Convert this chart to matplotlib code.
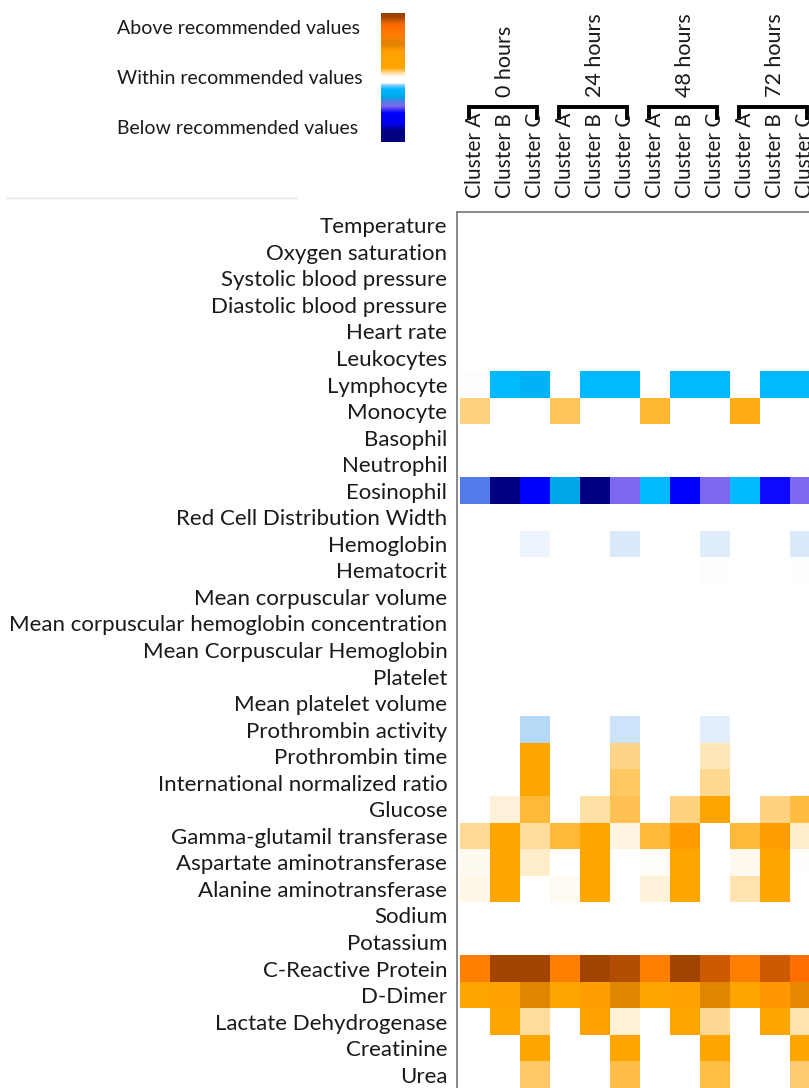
import numpy as np
import matplotlib
matplotlib.use("Agg")
import matplotlib.pyplot as plt
from matplotlib.colors import LinearSegmentedColormap, Normalize
from matplotlib import transforms
from matplotlib.lines import Line2D

plt.rcParams['font.family'] = ['Lato', 'DejaVu Sans']

# Clinical parameters shown as heatmap rows (top to bottom)
parameters = [
    "Temperature", "Oxygen saturation", "Systolic blood pressure",
    "Diastolic blood pressure", "Heart rate", "Leukocytes", "Lymphocyte",
    "Monocyte", "Basophil", "Neutrophil", "Eosinophil",
    "Red Cell Distribution Width", "Hemoglobin", "Hematocrit",
    "Mean corpuscular volume", "Mean corpuscular hemoglobin concentration",
    "Mean Corpuscular Hemoglobin", "Platelet", "Mean platelet volume",
    "Prothrombin activity", "Prothrombin time", "International normalized ratio",
    "Glucose", "Gamma-glutamil transferase", "Aspartate aminotransferase",
    "Alanine aminotransferase", "Sodium", "Potassium", "C-Reactive Protein",
    "D-Dimer", "Lactate Dehydrogenase", "Creatinine", "Urea",
]

timepoints = ["0 hours", "24 hours", "48 hours", "72 hours"]
clusters = ["Cluster A", "Cluster B", "Cluster C"]

# Deviation from the recommended range: 0 = within, > 0 above, < 0 below.
# Columns: A, B, C at 0 h, then A, B, C at 24 h, 48 h and 72 h.
levels = [
    [0, 0, 0, 0, 0, 0, 0, 0, 0, 0, 0, 0],                                  # Temperature
    [0, 0, 0, 0, 0, 0, 0, 0, 0, 0, 0, 0],                                  # Oxygen saturation
    [0, 0, 0, 0, 0, 0, 0, 0, 0, 0, 0, 0],                                  # Systolic
    [0, 0, 0, 0, 0, 0, 0, 0, 0, 0, 0, 0],                                  # Diastolic
    [0, 0, 0, 0, 0, 0, 0, 0, 0, 0, 0, 0],                                  # Heart rate
    [0, 0, 0, 0, 0, 0, 0, 0, 0, 0, 0, 0],                                  # Leukocytes
    [-0.03, -1.0, -1.05, 0, -1.0, -1.0, 0, -1.0, -1.0, 0, -1.0, -1.0],     # Lymphocyte
    [0.5, 0, 0, 0.65, 0, 0, 0.8, 0, 0, 0.92, 0, 0],                        # Monocyte
    [0, 0, 0, 0, 0, 0, 0, 0, 0, 0, 0, 0],                                  # Basophil
    [0, 0, 0, 0, 0, 0, 0, 0, 0, 0, 0, 0],                                  # Neutrophil
    [-1.32, -2.0, -1.7, -1.12, -2.0, -1.4, -1.0, -1.7, -1.4, -1.0, -1.67, -1.4],  # Eosinophil
    [0, 0, 0, 0, 0, 0, 0, 0, 0, 0, 0, 0],                                  # RDW
    [0, 0, -0.1, 0, 0, -0.2, 0, 0, -0.18, 0, 0, -0.2],                     # Hemoglobin
    [0, 0, 0, 0, 0, 0, 0, 0, -0.03, 0, 0, -0.03],                          # Hematocrit
    [0, 0, 0, 0, 0, 0, 0, 0, 0, 0, 0, 0],                                  # MCV
    [0, 0, 0, 0, 0, 0, 0, 0, 0, 0, 0, 0],                                  # MCHC
    [0, 0, 0, 0, 0, 0, 0, 0, 0, 0, 0, 0],                                  # MCH
    [0, 0, 0, 0, 0, 0, 0, 0, 0, 0, 0, 0],                                  # Platelet
    [0, 0, 0, 0, 0, 0, 0, 0, 0, 0, 0, 0],                                  # MPV
    [0, 0, -0.3, 0, 0, -0.24, 0, 0, -0.16, 0, 0, 0],                       # Prothrombin activity
    [0, 0, 1.0, 0, 0, 0.48, 0, 0, 0.27, 0, 0, 0],                          # Prothrombin time
    [0, 0, 1.0, 0, 0, 0.62, 0, 0, 0.44, 0, 0, 0],                          # INR
    [0, 0.16, 0.78, 0, 0.35, 0.68, 0, 0.5, 1.0, 0, 0.5, 0.75],             # Glucose
    [0.42, 1.0, 0.4, 0.78, 1.0, 0.13, 0.78, 1.06, 0, 0.78, 1.05, 0.22],    # GGT
    [0.07, 1.0, 0.22, 0, 1.0, 0, 0.03, 1.0, 0, 0.08, 1.0, 0.02],           # AST
    [0.1, 1.0, 0, 0.06, 1.0, 0, 0.15, 1.0, 0, 0.32, 1.0, 0],               # ALT
    [0, 0, 0, 0, 0, 0, 0, 0, 0, 0, 0, 0],                                  # Sodium
    [0, 0, 0, 0, 0, 0, 0, 0, 0, 0, 0, 0],                                  # Potassium
    [1.5, 1.97, 1.97, 1.5, 1.97, 1.9, 1.5, 1.97, 1.8, 1.5, 1.8, 1.58],     # CRP
    [1.0, 1.03, 1.25, 1.0, 1.05, 1.25, 1.0, 1.03, 1.25, 1.0, 1.1, 1.22],   # D-Dimer
    [0, 1.0, 0.4, 0, 1.02, 0.17, 0, 1.0, 0.43, 0, 1.0, 0.33],              # LDH
    [0, 0, 1.0, 0, 0, 1.0, 0, 0, 1.0, 0, 0, 1.0],                          # Creatinine
    [0, 0, 0.6, 0, 0, 0.72, 0, 0, 0.73, 0, 0, 0.57],                       # Urea
]

legend_labels = ["Above recommended values", "Within recommended values",
                 "Below recommended values"]

# diverging palette: navy/blue (below) - white (within) - orange/brown (above)
scale_vals = [-2.0, -1.7, -1.4, -1.15, -1.0, -0.3, -0.2, -0.1, -0.01, 0.01,
              1.0, 1.1, 1.25, 1.5, 1.6, 1.8, 2.0]
scale_cols = ["#000080", "#0000FF", "#7B68EE", "#00A3E3", "#00B9FF",
              "#B6D9F7", "#DAEAFB", "#EEF4FD", "#FFFFFF", "#FFFFFF",
              "#FFA500", "#FF9800", "#E08500", "#FF7F00", "#FF6A00",
              "#CC5A00", "#9A4000"]
cmap = LinearSegmentedColormap.from_list(
    "range", [((v + 2) / 4, c) for v, c in zip(scale_vals, scale_cols)], N=2048)
norm = Normalize(-2, 2)

W, H = 809, 1088
fig = plt.figure(figsize=(W / 100, H / 100), dpi=100)

# heatmap axes, running off the right and bottom edge
ax = fig.add_axes([457 / W, 0, 363 / W, 1 - 212 / H])
data = np.array(levels)
ax.pcolormesh(np.arange(data.shape[1] + 1), np.arange(data.shape[0] + 1), data,
              cmap=cmap, norm=norm, edgecolor='none')
ax.set_xlim(-0.1, 12)
ax.set_ylim(33, 0)
ax.set_xticks([])
ax.set_yticks(np.arange(len(parameters)) + 0.5, parameters, fontsize=16, color='#1a1a1a')
ax.tick_params(axis='y', length=0, pad=7)
for side in ['right', 'bottom']:
    ax.spines[side].set_visible(False)
for side in ['left', 'top']:
    ax.spines[side].set_color('#808080')
    ax.spines[side].set_linewidth(1.3)

# column headers: cluster names, time brackets and time labels
trans = transforms.blended_transform_factory(ax.transData, fig.transFigure)
y_clu = 1 - 198 / H
y_bar = 1 - 107 / H
y_tick = 1 - 118 / H
y_time = 1 - 97 / H
for t, tp in enumerate(timepoints):
    for c, cl in enumerate(clusters):
        ax.text(3 * t + c + 0.5, y_clu, cl, rotation=90, ha='center', va='bottom',
                transform=trans, fontsize=15, color='#1a1a1a', clip_on=False)
    x0, x1 = 3 * t + 0.3, 3 * t + 2.55
    ax.plot([x0, x0, x1, x1], [y_tick, y_bar, y_bar, y_tick], color='black',
            lw=2.8, transform=trans, clip_on=False, solid_joinstyle='miter')
    ax.text(3 * t + 1.5, y_time, tp, rotation=90, ha='center', va='bottom',
            transform=trans, fontsize=15.5, color='#1a1a1a', clip_on=False)

# legend text
for i, lab in enumerate(legend_labels):
    fig.text(117 / W, 1 - (28 + 50.5 * i) / H, lab, ha='left', va='center',
             fontsize=14, color='#1a1a1a')

# legend colour strip (top = far above range, bottom = far below range)
knot_y = [13, 17, 25, 35, 45, 52, 68, 73, 77, 83, 85, 89, 96, 101, 106, 113, 124, 131, 142]
knot_v = [2.0, 1.97, 1.6, 1.5, 1.25, 1.02, 1.0, 0.35, 0.0, 0.0, -0.5, -1.0,
          -1.1, -1.3, -1.4, -1.7, -1.75, -2.0, -2.0]
rows_px = np.arange(13, 142) + 0.5
strip = np.interp(rows_px, knot_y, knot_v)[:, None]
cax = fig.add_axes([381 / W, 1 - 142 / H, 24 / W, 129 / H])
cax.imshow(strip, aspect='auto', cmap=cmap, norm=norm, interpolation='bilinear')
cax.axis('off')

# faint separator under the legend
fig.add_artist(Line2D([7 / W, 297 / W], [1 - 198 / H] * 2, color='#e4e4e4', lw=1))

fig.savefig("out.png", dpi=100)
